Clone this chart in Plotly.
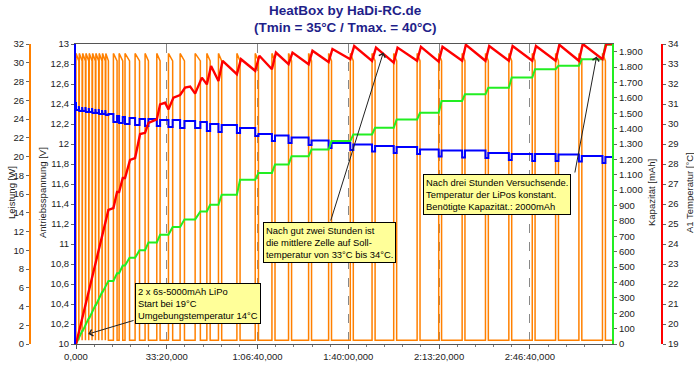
import plotly.graph_objects as go

# ---------------- data ----------------
tick_seconds = [0, 2000, 4000, 6000, 8000, 10000]
tick_labels = ["0,000", "33:20,000", "1:06:40,000", "1:40:00,000", "2:13:20,000", "2:46:40,000"]
t_end_s = 11810

# heater pulses (Leistung) start / end times in seconds
pulse_on_s = [0, 73, 146, 219, 292, 365, 438, 511, 584, 657,
              824, 950, 1080, 1302, 1522, 1780, 2037, 2294, 2625,
              2883, 3139, 3545, 3949, 4317, 4683, 5125, 5566, 6044, 6523,
              7000, 7516, 7992, 8508, 9022, 9537, 10053, 10567, 11081, 11600]
pulse_off_s = [62, 135, 208, 281, 354, 427, 500, 573, 646, 714,
               905, 1030, 1180, 1400, 1596, 1853, 2130, 2390, 2740,
               2956, 3210, 3615, 4020, 4385, 4750, 5190, 5630, 6110, 6590,
               7065, 7580, 8055, 8570, 9085, 9600, 10115, 10630, 11145, 11665]
power_start_w = 31.0
power_end_w = 30.2
power_idle_w = 0.4

# Kapazität [mAh] before each pulse, and the final value
cap_before_mah = [0, 42, 84, 126, 168, 210, 252, 294, 336, 378,
                  410, 460, 510, 560, 610, 660, 710, 760, 810,
                  862, 905, 970, 1068, 1112, 1166, 1221, 1264, 1319, 1362,
                  1405, 1460, 1503, 1580, 1623, 1666, 1732, 1786, 1808, 1851]
cap_final_mah = 1945

# Antriebsspannung [V]: resting value before each pulse, loaded value at pulse end
volt_rest_v = [12.42, 12.38, 12.37, 12.37, 12.36, 12.36, 12.35, 12.35, 12.34, 12.34,
               12.30, 12.28, 12.27, 12.26, 12.25, 12.25, 12.24, 12.24, 12.23,
               12.22, 12.20, 12.19, 12.16, 12.10, 12.085, 12.065, 12.035, 12.01, 11.995,
               11.98, 11.97, 11.945, 11.935, 11.935, 11.91, 11.90, 11.90, 11.895, 11.88]
volt_load_v = [12.34, 12.33, 12.33, 12.32, 12.32, 12.31, 12.31, 12.30, 12.30, 12.29,
               12.22, 12.21, 12.20, 12.19, 12.18, 12.18, 12.17, 12.16, 12.16,
               12.13, 12.12, 12.11, 12.08, 12.03, 12.01, 11.99, 11.96, 11.94, 11.925,
               11.91, 11.90, 11.875, 11.865, 11.86, 11.84, 11.83, 11.83, 11.825, 11.81]
volt_final_v = 11.87

# A1 Temperatur [°C]
temp_time_s = [0, 714, 824, 905, 950, 1030, 1080, 1191, 1302, 1412, 1522, 1596, 1780,
               1853, 1963, 2037, 2147, 2294, 2404, 2515, 2625, 2773, 2883, 2976,
               3139, 3230, 3545, 3635, 3949, 4040, 4317, 4405, 4683, 4770, 5125, 5210,
               5566, 5650, 6044, 6130, 6523, 6610, 7000, 7085, 7516, 7600, 7992, 8075,
               8508, 8590, 9022, 9105, 9537, 9620, 10053, 10135, 10567, 10650,
               11081, 11165, 11600, 11685, 11810]
temp_c = [19.0, 25.7, 25.8, 26.6, 26.6, 27.3, 27.3, 28.2, 28.3, 29.5, 29.56, 30.06, 30.23,
          30.98, 31.06, 30.73, 31.32, 31.45, 31.82, 31.87, 31.52, 32.32, 31.98, 32.9,
          32.15, 33.16, 32.49, 33.24, 32.66, 33.41, 32.74, 33.57, 32.99, 33.57, 32.99, 33.66,
          33.10, 33.75, 33.24, 33.9, 33.16, 33.82, 33.07, 33.82, 33.16, 33.86, 33.12, 33.86,
          33.16, 33.96, 33.16, 33.9, 33.16, 33.9, 33.16, 33.9, 33.16, 33.96,
          33.16, 34.0, 33.24, 34.0, 34.0]

# ---------------- build series ----------------
n = len(pulse_on_s)
p_t, p_w = [0], [power_idle_w]
c_t, c_v = [0], [0]
v_t, v_v = [], []
for i in range(n):
    on, off = pulse_on_s[i], pulse_off_s[i]
    p_t += [on, on, off, off]
    p_w += [power_idle_w, power_start_w, power_end_w, power_idle_w]
    nxt_cap = cap_before_mah[i + 1] if i + 1 < n else cap_final_mah
    c_t += [on, off]
    c_v += [cap_before_mah[i], nxt_cap]
    nxt_v = volt_rest_v[i + 1] if i + 1 < n else volt_final_v
    v_t += [on, on, off, off]
    v_v += [volt_rest_v[i], volt_load_v[i], volt_load_v[i], nxt_v]
p_t.append(t_end_s); p_w.append(power_idle_w)
c_t.append(t_end_s); c_v.append(cap_final_mah)
v_t.append(t_end_s); v_v.append(volt_final_v)

ORANGE = "#ff8000"
BLUE = "#0000ff"
GREEN = "#22ee22"
RED = "#ff0000"
FONT = "Liberation Sans, Arial, sans-serif"

fig = go.Figure()
fig.add_trace(go.Scatter(x=p_t, y=p_w, mode="lines", line=dict(color=ORANGE, width=1.5),
                         yaxis="y", hoverinfo="skip"))
fig.add_trace(go.Scatter(x=v_t, y=v_v, mode="lines", line=dict(color=BLUE, width=2),
                         yaxis="y2", hoverinfo="skip"))
fig.add_trace(go.Scatter(x=c_t, y=c_v, mode="lines", line=dict(color=GREEN, width=2),
                         yaxis="y3", hoverinfo="skip"))
fig.add_trace(go.Scatter(x=temp_time_s, y=temp_c, mode="lines", line=dict(color=RED, width=2.4),
                         yaxis="y4", hoverinfo="skip"))

W, H = 694, 367
L, R, T, B = 76, 612, 44, 344


def px(x):
    return x / W


def py(y):
    return (B - y) / (B - T)


tickfont = dict(family=FONT, size=9.5, color="#222222")
common = dict(showgrid=False, zeroline=False, ticks="outside", ticklen=3, tickfont=tickfont,
              showline=True, linewidth=2, automargin=False)

fig.update_layout(
    width=W, height=H,
    margin=dict(l=0, r=0, t=T, b=H - B, autoexpand=False),
    paper_bgcolor="white", plot_bgcolor="white",
    showlegend=False,
    separators=",.",
    font=dict(family=FONT, size=9.5, color="#222222"),
    xaxis=dict(domain=[px(L), px(R)], range=[0, t_end_s], tickvals=tick_seconds, ticktext=tick_labels,
               showgrid=True, griddash="dash", gridcolor="#888888", gridwidth=1,
               showline=True, linecolor="#555555", linewidth=1, mirror=True, automargin=False,
               ticks="outside", ticklen=4, tickcolor="#555555", tickfont=tickfont, zeroline=False,
               minor=dict(dtick=400, ticks="outside", ticklen=2, tickcolor="#777777", showgrid=False)),
    yaxis=dict(range=[0, 32], dtick=2, anchor="free", position=px(30), side="left",
               linecolor=ORANGE, tickcolor="#666666", **common),
    yaxis2=dict(range=[10, 13], dtick=0.2, anchor="x", overlaying="y", side="left",
                linecolor=BLUE, tickcolor="#666666", **common),
    yaxis3=dict(range=[0, 1950], dtick=100, anchor="x", overlaying="y", side="right",
                separatethousands=True, linecolor=GREEN, tickcolor="#666666", **common),
    yaxis4=dict(range=[19, 34], dtick=1, anchor="free", position=px(662), overlaying="y", side="right",
                linecolor=RED, tickcolor="#666666", **common),
)

# title (two lines)
title_font = dict(family=FONT, size=13.5, color="#1f1f8a", weight="bold")
for text, ypix in [("HeatBox by HaDi-RC.de", 10), ("(Tmin = 35°C / Tmax. = 40°C)", 27)]:
    fig.add_annotation(text=text, xref="paper", yref="paper", x=px(345), y=py(ypix),
                       xanchor="center", yanchor="middle", showarrow=False, font=title_font)

# axis titles
ann_font = dict(family=FONT, size=9.5, color="#222222")
for text, xpix in [("Leistung [W]", 11), ("Antriebsspannung [V]", 42),
                   ("Kapazität [mAh]", 651), ("A1 Temperatur [°C]", 689)]:
    fig.add_annotation(text=text, xref="paper", yref="paper", x=px(xpix), y=py(193),
                       textangle=-90, showarrow=False, font=ann_font,
                       xanchor="center", yanchor="middle")

# note boxes
box_font = dict(family=FONT, size=9.4, color="black")
boxes = [
    ("2 x 6s-5000mAh LiPo<br>Start bei 19°C<br>Umgebungstemperatur 14°C", 135, 283),
    ("Nach gut zwei Stunden ist<br>die mittlere Zelle auf Soll-<br>temperatur von 33°C bis 34°C.", 263, 222),
    ("Nach drei Stunden Versuchsende.<br>Temperatur der LiPos konstant.<br>Benötigte Kapazität.: 2000mAh", 423, 174),
]
for text, x0, y0 in boxes:
    fig.add_annotation(text=text, xref="paper", yref="paper", x=px(x0), y=py(y0),
                       xanchor="left", yanchor="top", align="left", showarrow=False,
                       bgcolor="#ffff99", bordercolor="black", borderwidth=1, borderpad=2,
                       font=box_font)

# arrows (head and tail in data coordinates of time / voltage)
arrows = [((271, 10.10), (1302, 10.24)),
          ((6772, 12.915), (5603, 11.22)),
          ((11471, 12.875), (10986, 11.70))]
for (hx, hy), (tx, ty) in arrows:
    fig.add_annotation(x=hx, y=hy, xref="x", yref="y2", ax=tx, ay=ty, axref="x", ayref="y2",
                       text="", showarrow=True, arrowhead=4, arrowsize=1.3, arrowwidth=1,
                       arrowcolor="#222222")

fig.write_html("out.html", config={"displayModeBar": False},
               post_script="document.body.style.margin='0';document.body.style.overflow='hidden';")
